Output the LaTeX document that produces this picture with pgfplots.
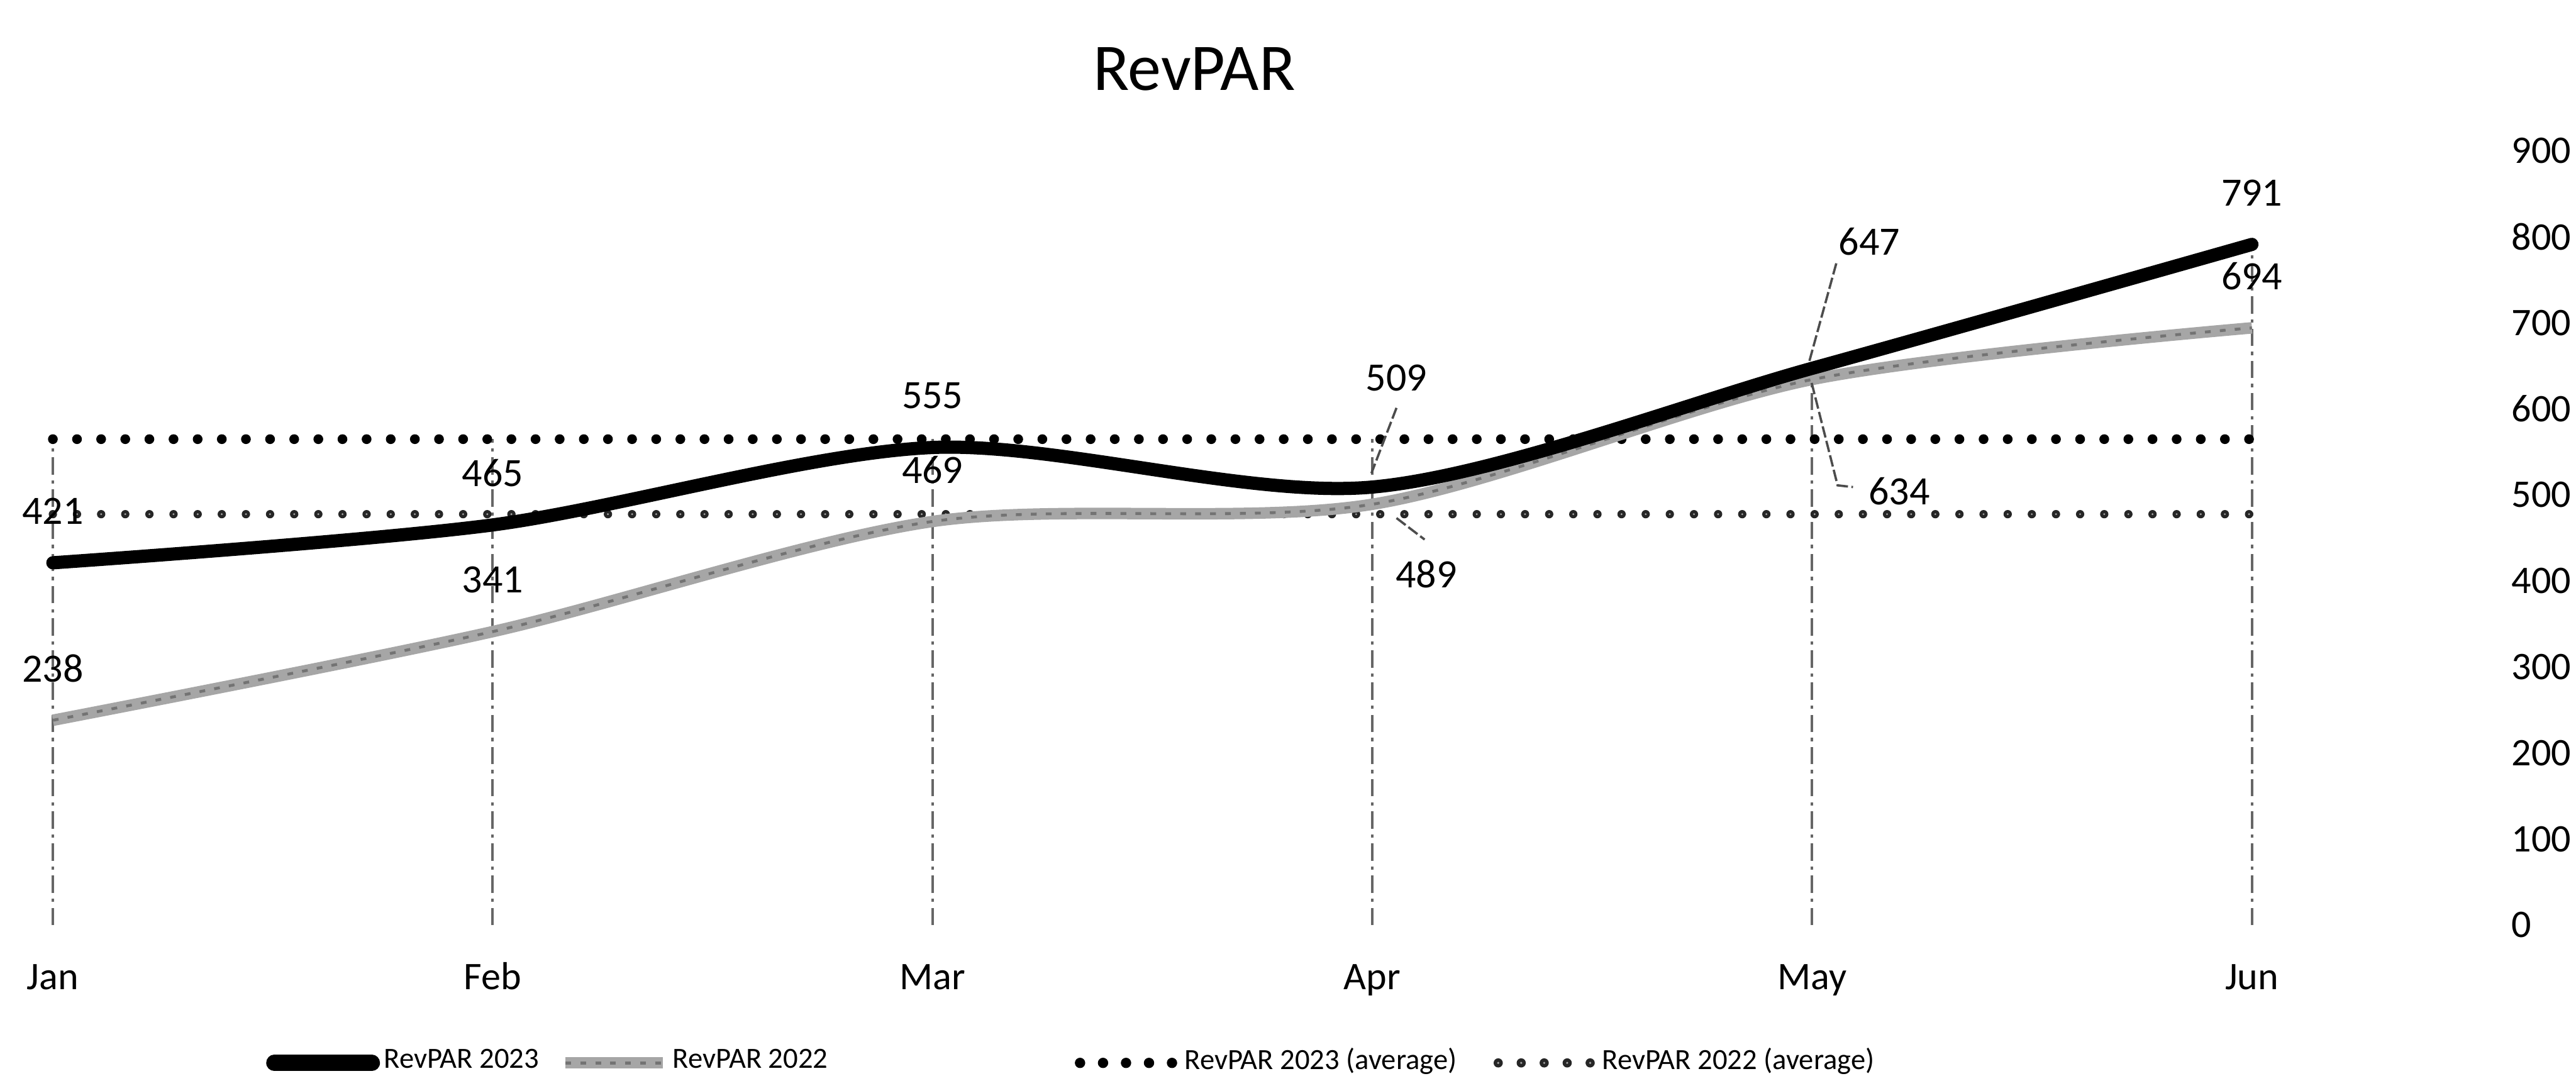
\documentclass[border=0pt]{standalone}
\usepackage{fontspec}
\setmainfont{Carlito}
\usepackage{pgfplots}
\usepackage{pgfplotstable}
\pgfplotsset{compat=1.18}
\pgfplotstableread{
x y23 y22
0 421 238
1 465 341
2 555 469
3 509 489
4 647 634
5 791 694
}\revpar
\tikzset{
  s23/.style={black, line width=2.3pt, line cap=round},
  s22/.style={black!35, line width=2pt, postaction={draw, black!55, line width=0.5pt, dash pattern=on 1pt off 1.6pt}},
  a23/.style={black, line width=1.7pt, line cap=round, dash pattern=on 0pt off 4.2pt},
  a22/.style={black!85, line width=1.45pt, line cap=round, dash pattern=on 0pt off 4.2pt, postaction={draw, black!35, line width=0.35pt, line cap=round, dash pattern=on 0pt off 4.2pt}},
  lab/.style={font=\fontsize{7}{8}\selectfont, inner sep=0pt, anchor=center},
  lead/.style={black!70, line width=0.4pt, dash pattern=on 2pt off 0.6pt}
}
\begin{document}
\begin{tikzpicture}
\path[use as bounding box] (-9.2pt,-27.1pt) rectangle (439.1pt,161.0pt);
\begin{axis}[
  at={(0,0)}, anchor=south west,
  scale only axis, width=382.7pt, height=134.8pt,
  xmin=0, xmax=5, ymin=0, ymax=900,
  axis line style={draw=none},
  tick style={draw=none},
  major tick length=0pt,
  ytick={0,100,...,900}, yticklabel pos=right,
  xtick={0,...,5}, xticklabels={Jan,Feb,Mar,Apr,May,Jun},
  tick label style={font=\fontsize{6.8}{8}\selectfont},
  /pgf/number format/assume math mode=true,
  y tick label style={anchor=west, inner sep=0pt, xshift=45pt},
  x tick label style={anchor=base, inner sep=0pt, yshift=-11.2pt},
  clip=false,
  legend columns=4,
  legend style={draw=none, fill=none, at={(axis description cs:0.0965,-0.178)}, anchor=west,
    font=\fontsize{5.1}{6.5}\selectfont, inner sep=0pt, nodes={inner sep=0.7pt}},
  legend cell align=left,
]
\addlegendimage{legend image code/.code={\draw[black, line width=2.8pt, line cap=round] (0pt,0pt) -- (17pt,0pt);}}
\addlegendentry{RevPAR 2023\rule{2.9pt}{0pt}}
\addlegendimage{legend image code/.code={\draw[s22] (0pt,0pt) -- (17pt,0pt);}}
\addlegendentry{RevPAR 2022\rule{42.3pt}{0pt}}
\addlegendimage{legend image code/.code={\draw[black, line width=1.8pt, line cap=round, dash pattern=on 0pt off 4pt] (0.9pt,0pt) -- (17.5pt,0pt);}}
\addlegendentry{RevPAR 2023 (average)\rule{5.7pt}{0pt}}
\addlegendimage{legend image code/.code={\draw[black!85, line width=1.6pt, line cap=round, dash pattern=on 0pt off 4pt, postaction={draw, black!35, line width=0.4pt, line cap=round, dash pattern=on 0pt off 4pt}] (0.9pt,0pt) -- (17.5pt,0pt);}}
\addlegendentry{RevPAR 2022 (average)}

% drop lines
\addplot[forget plot, ycomb, black!60, line width=0.45pt, dash pattern=on 3pt off 1pt on 0.6pt off 1pt]
  coordinates {(0,564.67) (1,564.67) (2,564.67) (3,564.67) (4,647) (5,791)};
% averages
\addplot[forget plot, a23] coordinates {(0,564.67) (5,564.67)};
\addplot[forget plot, a22] coordinates {(0,477.5) (5,477.5)};
% series
\addplot[forget plot, s22, smooth, tension=0.5] table[x=x, y=y22] {\revpar};
\addplot[forget plot, s23, smooth, tension=0.5] table[x=x, y=y23] {\revpar};

% data labels
\node[lab, yshift=9pt] at (axis cs:0,421) {421};
\node[lab, yshift=9pt] at (axis cs:1,465) {465};
\node[lab, yshift=9pt] at (axis cs:2,555) {555};
\node[lab, yshift=9pt] at (axis cs:5,791) {791};
\node[lab, yshift=9pt] at (axis cs:0,238) {238};
\node[lab, yshift=9pt] at (axis cs:1,341) {341};
\node[lab, yshift=9pt] at (axis cs:2,469) {469};
\node[lab, yshift=9pt] at (axis cs:5,694) {694};
\node[lab] at (axis cs:3.055,636) {509};
\draw[lead] (axis cs:3.055,601) -- (axis cs:2.998,525);
\node[lab] at (axis cs:3.123,408) {489};
\draw[lead] (axis cs:3.055,473) -- (axis cs:3.119,448);
\node[lab] at (axis cs:4.13,794) {647};
\draw[lead] (axis cs:4.055,769) -- (axis cs:3.992,652);
\node[lab] at (axis cs:4.198,504) {634};
\draw[lead] (axis cs:3.999,630) -- (axis cs:4.058,511) -- (axis cs:4.093,509);
% title
\node[font=\fontsize{11.6}{13}\selectfont, anchor=center] at (axis description cs:0.519,1.105) {RevPAR};
\end{axis}
\end{tikzpicture}
\end{document}
